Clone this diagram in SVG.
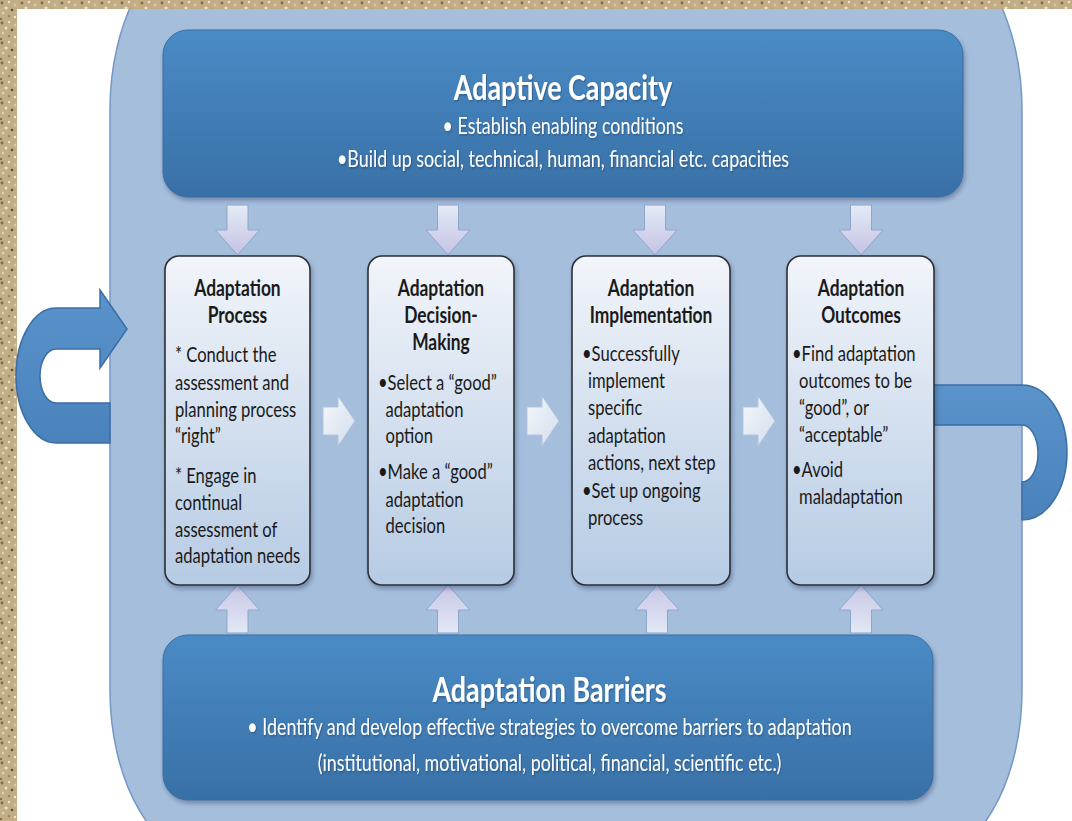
<svg xmlns="http://www.w3.org/2000/svg" xmlns:xlink="http://www.w3.org/1999/xlink" width="1072" height="821" viewBox="0 0 1072 821">
  <defs>
    <style>
      .hdr { font-family: Lato, "Open Sans", "Liberation Sans", sans-serif; fill: #ffffff; }
      .htitle { font-size: 34px; font-weight: bold; }
      .hsub { font-size: 22.6px; }
      .bx { font-family: Lato, "Open Sans", "Liberation Sans", sans-serif; fill: #1a1a1a; font-size: 21px; }
      .bxt { font-weight: bold; text-anchor: middle; font-size: 22px; }
      .step { fill: url(#gStep); stroke: #2b2f36; stroke-width: 1.6; }
      .band { fill: url(#gBand); stroke: #3a6da3; stroke-width: 1; }
      .uarr { fill: url(#gU); stroke: #3c6ea6; stroke-width: 1.5; }
      .varr { stroke: #8ea6cc; stroke-width: 1; }
      .harr { fill: url(#gRight); stroke: #b3c5de; stroke-width: 1; }
    </style>
    <pattern id="sand" width="20" height="20" patternUnits="userSpaceOnUse">
      <rect width="20" height="20" fill="#c2ad86"/>
      <circle cx="2" cy="3" r="1.4" fill="#7e6946"/>
      <circle cx="9" cy="2" r="1.2" fill="#ece2c8"/>
      <circle cx="15" cy="5" r="1.5" fill="#d8c9a6"/>
      <circle cx="6" cy="8" r="1.5" fill="#efe6cf"/>
      <circle cx="12" cy="10" r="1.3" fill="#5e4c2e"/>
      <circle cx="18" cy="12" r="1.1" fill="#efe4c6"/>
      <circle cx="3" cy="13" r="1.2" fill="#e3d6b6"/>
      <circle cx="9" cy="16" r="1.3" fill="#9c8660"/>
      <circle cx="15" cy="17" r="1.2" fill="#f3ead4"/>
      <circle cx="1" cy="19" r="1" fill="#6f5b3b"/>
    </pattern>
    <linearGradient id="gBand" x1="0" y1="0" x2="0" y2="1">
      <stop offset="0" stop-color="#4a8bc6"/>
      <stop offset="1" stop-color="#3870a6"/>
    </linearGradient>
    <linearGradient id="gStep" x1="0" y1="0" x2="0" y2="1">
      <stop offset="0" stop-color="#f2f5fa"/>
      <stop offset="1" stop-color="#b6cbe4"/>
    </linearGradient>
    <linearGradient id="gU" x1="0" y1="0" x2="0" y2="1">
      <stop offset="0" stop-color="#5a92ca"/>
      <stop offset="1" stop-color="#4a82bc"/>
    </linearGradient>
    <linearGradient id="gDown" x1="0" y1="0" x2="0" y2="1">
      <stop offset="0" stop-color="#e4ebf6"/>
      <stop offset="1" stop-color="#c4c2e4"/>
    </linearGradient>
    <linearGradient id="gUp" x1="0" y1="0" x2="0" y2="1">
      <stop offset="0" stop-color="#c8c6e6"/>
      <stop offset="1" stop-color="#e2e9f5"/>
    </linearGradient>
    <linearGradient id="gRight" x1="0" y1="0" x2="1" y2="1">
      <stop offset="0" stop-color="#f6f8fc"/>
      <stop offset="1" stop-color="#d2ddec"/>
    </linearGradient>
    <filter id="shadow" x="-10%" y="-10%" width="120%" height="125%">
      <feDropShadow dx="1.5" dy="3" stdDeviation="2" flood-color="#1b2f4a" flood-opacity="0.35"/>
    </filter>
    <filter id="tshadow" x="-5%" y="-20%" width="110%" height="140%">
      <feDropShadow dx="1" dy="1" stdDeviation="0.8" flood-color="#16324f" flood-opacity="0.5"/>
    </filter>
    <path id="downArrow" d="M-10.5,0 H10.5 V25 H22 L0,50 L-22,25 H-10.5 Z"/>
    <path id="upArrow" d="M0,0 L22,25 H10.5 V48 H-10.5 V25 H-22 Z"/>
    <path id="rightArrow" d="M0,-14 H15 V-25 L32,0 L15,25 V14 H0 Z"/>
  </defs>

  <!-- background -->
  <rect x="0" y="0" width="1072" height="821" fill="url(#sand)"/>
  <rect x="17" y="9" width="1055" height="812" fill="#ffffff"/>

  <!-- big container -->
  <g id="container">
    <rect x="110" y="-60" width="912" height="920" rx="100" ry="170" fill="#a5bedc" stroke="#7397c6" stroke-width="1.5"/>
  </g>
  <!-- sand top strip over the container -->
  <rect x="0" y="0" width="1072" height="9" fill="url(#sand)"/>

  <!-- connectors -->
  <g id="connectors">
    <path id="loopLeft" class="uarr" d="M100,308 L100,290 L127,329 L100,368 L100,349 L56,349 A16,27 0 0 0 56,403 L110,403 L110,443 L56,443 A40,67.5 0 0 1 56,308 Z"/>
    <path id="loopRight" class="uarr" d="M933,385 L1022,385 A45,67.5 0 0 1 1022,520 L1022,482 A16,28.5 0 0 0 1022,425 L933,425 Z"/>
    <g fill="url(#gDown)" class="varr">
      <use xlink:href="#downArrow" x="237.5" y="205"/>
      <use xlink:href="#downArrow" x="448" y="205"/>
      <use xlink:href="#downArrow" x="655" y="205"/>
      <use xlink:href="#downArrow" x="861" y="205"/>
    </g>
    <g fill="url(#gUp)" class="varr">
      <use xlink:href="#upArrow" x="237.5" y="585"/>
      <use xlink:href="#upArrow" x="448" y="585"/>
      <use xlink:href="#upArrow" x="657" y="585"/>
      <use xlink:href="#upArrow" x="861" y="585"/>
    </g>
    <g class="harr">
      <use xlink:href="#rightArrow" x="323" y="421"/>
      <use xlink:href="#rightArrow" x="527" y="421"/>
      <use xlink:href="#rightArrow" x="743" y="421"/>
    </g>
  </g>

  <!-- Adaptive Capacity -->
  <g id="adaptive-capacity">
    <rect class="band" x="163" y="30" width="800" height="167" rx="25" filter="url(#shadow)"/>
    <g class="hdr" text-anchor="middle" filter="url(#tshadow)" transform="scale(0.79,1)">
      <text class="htitle" x="712.7" y="100">Adaptive Capacity</text>
      <text class="hsub" x="712.7" y="134">• Establish enabling conditions</text>
      <text class="hsub" x="712.7" y="167">•Build up social, technical, human, financial etc. capacities</text>
    </g>
  </g>

  <!-- Adaptation Barriers -->
  <g id="adaptation-barriers">
    <rect class="band" x="163" y="635" width="770" height="165" rx="25" filter="url(#shadow)"/>
    <g class="hdr" text-anchor="middle" filter="url(#tshadow)" transform="scale(0.79,1)">
      <text class="htitle" x="695.6" y="702">Adaptation Barriers</text>
      <text class="hsub" x="695.6" y="735">• Identify and develop effective strategies to overcome barriers to adaptation</text>
      <text class="hsub" x="695.6" y="771">(institutional, motivational, political, financial, scientific etc.)</text>
    </g>
  </g>

  <!-- Step 1 -->
  <g id="adaptation-process">
    <rect class="step" x="165" y="256" width="145" height="329" rx="14" filter="url(#shadow)"/>
    <g class="bx" transform="scale(0.79,1)">
      <text class="bxt" x="300.6" y="296">Adaptation</text>
      <text class="bxt" x="300.6" y="323">Process</text>
      <text x="221.5" y="362">* Conduct the</text>
      <text x="221.5" y="390">assessment and</text>
      <text x="221.5" y="417">planning process</text>
      <text x="221.5" y="443">“right”</text>
      <text x="221.5" y="483">* Engage in</text>
      <text x="221.5" y="510">continual</text>
      <text x="221.5" y="537">assessment of</text>
      <text x="221.5" y="563">adaptation needs</text>
    </g>
  </g>

  <!-- Step 2 -->
  <g id="adaptation-decision-making">
    <rect class="step" x="368" y="256" width="146" height="329" rx="14" filter="url(#shadow)"/>
    <g class="bx" transform="scale(0.79,1)">
      <text class="bxt" x="558.2" y="296">Adaptation</text>
      <text class="bxt" x="558.2" y="323">Decision-</text>
      <text class="bxt" x="558.2" y="350">Making</text>
      <text x="478.5" y="390">•Select a “good”</text>
      <text x="488" y="417">adaptation</text>
      <text x="488" y="443">option</text>
      <text x="478.5" y="479">•Make a “good”</text>
      <text x="488" y="507">adaptation</text>
      <text x="488" y="533">decision</text>
    </g>
  </g>

  <!-- Step 3 -->
  <g id="adaptation-implementation">
    <rect class="step" x="572" y="256" width="158" height="329" rx="14" filter="url(#shadow)"/>
    <g class="bx" transform="scale(0.79,1)">
      <text class="bxt" x="824.1" y="296">Adaptation</text>
      <text class="bxt" x="824.1" y="323">Implementation</text>
      <text x="736.7" y="361">•Successfully</text>
      <text x="744.3" y="388">implement</text>
      <text x="744.3" y="415">specific</text>
      <text x="744.3" y="443">adaptation</text>
      <text x="744.3" y="470">actions, next step</text>
      <text x="736.7" y="498">•Set up ongoing</text>
      <text x="744.3" y="525">process</text>
    </g>
  </g>

  <!-- Step 4 -->
  <g id="adaptation-outcomes">
    <rect class="step" x="787" y="256" width="147" height="329" rx="14" filter="url(#shadow)"/>
    <g class="bx" transform="scale(0.79,1)">
      <text class="bxt" x="1089.9" y="296">Adaptation</text>
      <text class="bxt" x="1089.9" y="323">Outcomes</text>
      <text x="1002.5" y="361">•Find adaptation</text>
      <text x="1011.4" y="388">outcomes to be</text>
      <text x="1011.4" y="415">“good”, or</text>
      <text x="1011.4" y="442">“acceptable”</text>
      <text x="1002.5" y="477">•Avoid</text>
      <text x="1011.4" y="504">maladaptation</text>
    </g>
  </g>
</svg>
